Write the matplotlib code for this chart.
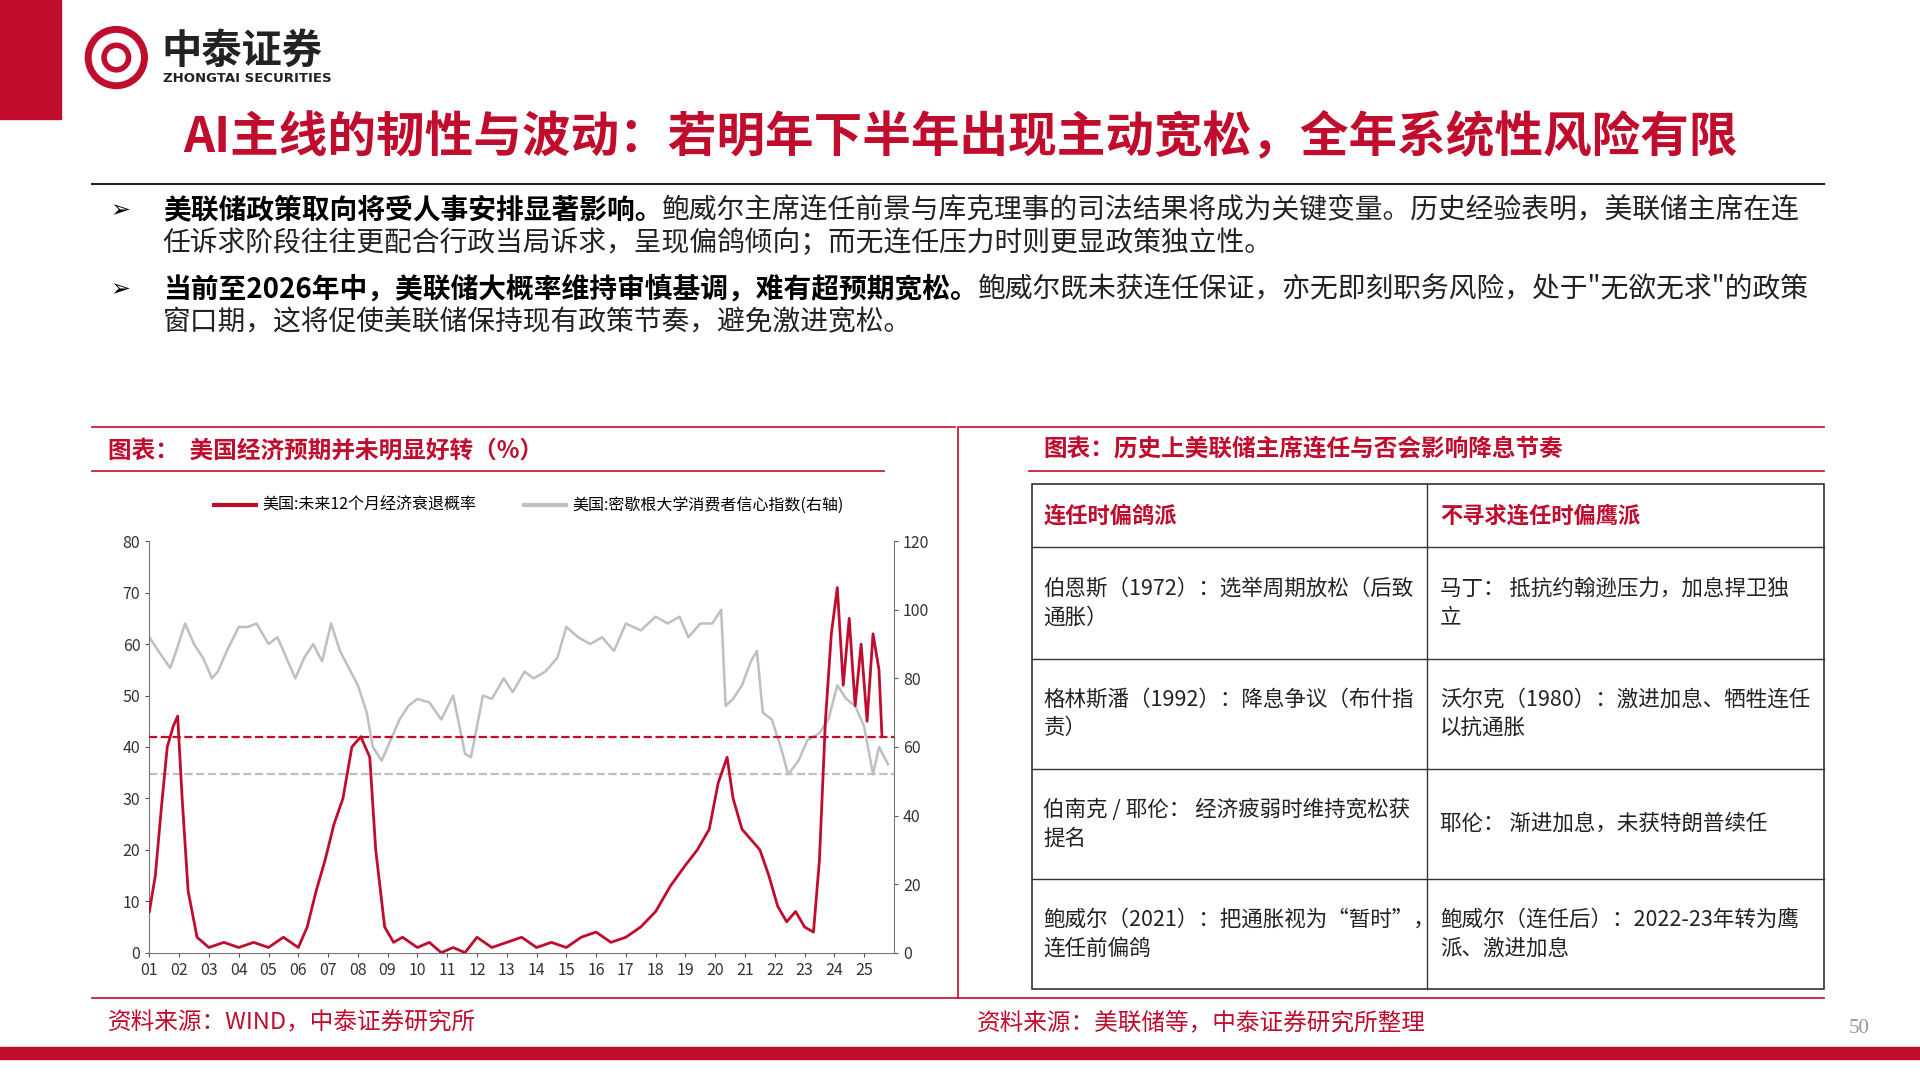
import numpy as np
import matplotlib
matplotlib.use("Agg")
import matplotlib.pyplot as plt
from matplotlib.patches import Rectangle, Ellipse

plt.rcParams['font.family'] = ['Noto Sans CJK SC', 'DejaVu Sans']

RED = "#C00C2D"
GRAY = "#BFBFBF"

# ---- data ----
gray_x = [2001.0, 2001.3, 2001.7, 2001.9, 2002.2, 2002.5, 2002.8, 2003.1, 2003.3, 2003.6, 2004.0,
          2004.3, 2004.6, 2005.0, 2005.3, 2005.7, 2005.9, 2006.2, 2006.5, 2006.8, 2007.1, 2007.4,
          2007.7, 2008.0, 2008.3, 2008.5, 2008.8, 2009.1, 2009.4, 2009.7, 2010.0, 2010.4, 2010.8,
          2011.2, 2011.6, 2011.8, 2012.2, 2012.5, 2012.9, 2013.2, 2013.6, 2013.9, 2014.3, 2014.7,
          2015.0, 2015.4, 2015.8, 2016.2, 2016.6, 2017.0, 2017.5, 2018.0, 2018.4, 2018.8, 2019.1,
          2019.5, 2019.9, 2020.2, 2020.35, 2020.6, 2020.9, 2021.2, 2021.4, 2021.6, 2021.9, 2022.2,
          2022.45, 2022.8, 2023.1, 2023.5, 2023.8, 2024.1, 2024.4, 2024.7, 2025.0, 2025.3, 2025.5,
          2025.8]
gray_y = [92, 88, 83, 88, 96, 90, 86, 80, 82, 88, 95, 95, 96, 90, 92, 84, 80, 86, 90, 85, 96,
          88, 83, 78, 70, 60, 56, 62, 68, 72, 74, 73, 68, 75, 58, 57, 75, 74, 80, 76, 82, 80,
          82, 86, 95, 92, 90, 92, 88, 96, 94, 98, 96, 98, 92, 96, 96, 100, 72, 74, 78, 85, 88,
          70, 68, 60, 52, 56, 62, 64, 68, 78, 74, 72, 66, 52, 60, 55]
red_x = [2001.0, 2001.2, 2001.4, 2001.6, 2001.8, 2001.95, 2002.1, 2002.3, 2002.6, 2003.0, 2003.5,
         2004.0, 2004.5, 2005.0, 2005.5, 2006.0, 2006.3, 2006.6, 2006.9, 2007.2, 2007.5, 2007.8,
         2008.1, 2008.4, 2008.6, 2008.9, 2009.2, 2009.5, 2010.0, 2010.4, 2010.8, 2011.2, 2011.6,
         2012.0, 2012.5, 2013.0, 2013.5, 2014.0, 2014.5, 2015.0, 2015.5, 2016.0, 2016.5, 2017.0,
         2017.5, 2018.0, 2018.5, 2019.0, 2019.4, 2019.8, 2020.1, 2020.4, 2020.6, 2020.9, 2021.2,
         2021.5, 2021.8, 2022.1, 2022.4, 2022.7, 2023.0, 2023.3, 2023.5, 2023.7, 2023.9, 2024.1,
         2024.3, 2024.5, 2024.7, 2024.9, 2025.1, 2025.3, 2025.5, 2025.6]
red_y = [8, 15, 28, 40, 44, 46, 30, 12, 3, 1, 2, 1, 2, 1, 3, 1, 5, 12, 18, 25, 30, 40, 42,
         38, 20, 5, 2, 3, 1, 2, 0, 1, 0, 3, 1, 2, 3, 1, 2, 1, 3, 4, 2, 3, 5, 8, 13, 17, 20, 24,
         33, 38, 30, 24, 22, 20, 15, 9, 6, 8, 5, 4, 18, 45, 62, 71, 52, 65, 48, 60, 45, 62, 55, 42]
red_avg = 42
gray_avg = 52
years = [f"{i:02d}" for i in range(1, 26)]
legend_red = "美国:未来12个月经济衰退概率"
legend_gray = "美国:密歇根大学消费者信心指数(右轴)"

table_head = ["连任时偏鸽派", "不寻求连任时偏鹰派"]
table_rows = [
    ["伯恩斯（1972）：选举周期放松（后致\n通胀）", "马丁： 抵抗约翰逊压力，加息捍卫独\n立"],
    ["格林斯潘（1992）：降息争议（布什指\n责）", "沃尔克（1980）：激进加息、牺牲连任\n以抗通胀"],
    ["伯南克 / 耶伦： 经济疲弱时维持宽松获\n提名", "耶伦： 渐进加息，未获特朗普续任"],
    ["鲍威尔（2021）：把通胀视为“暂时”，\n连任前偏鸽", "鲍威尔（连任后）：2022-23年转为鹰\n派、激进加息"],
]

W, H = 1568.0, 882.0
fig = plt.figure(figsize=(19.2, 10.8), dpi=100)

def fx(px): return px / W
def fy(py): return 1 - py / H

def hline(y, x0, x1, color=RED, lw=1.2):
    fig.add_artist(plt.Line2D([fx(x0), fx(x1)], [fy(y), fy(y)], color=color, lw=lw))

# header
fig.add_artist(Rectangle((0, fy(97)), fx(50), 97 / H, color=RED, transform=fig.transFigure))
fig.add_artist(Ellipse((fx(95), fy(47)), 46 / W, 46 / H, transform=fig.transFigure, fill=False,
                       ec=RED, lw=5))
fig.add_artist(Ellipse((fx(95), fy(47)), 20 / W, 20 / H, transform=fig.transFigure, fill=False,
                       ec=RED, lw=4))
fig.text(fx(132), fy(42), "中泰证券", fontsize=29, weight="bold", color="#222222", va="center")
fig.text(fx(133), fy(64), "ZHONGTAI SECURITIES", fontsize=9.5, weight="bold", color="#222222",
         va="center", family="DejaVu Sans")
fig.text(fx(784), fy(112), "AI主线的韧性与波动：若明年下半年出现主动宽松，全年系统性风险有限",
         fontsize=35, weight="bold", color=RED, ha="center", va="center")
hline(150, 75, 1490, color="#222222", lw=1.5)

bullets = [
    (172, "美联储政策取向将受人事安排显著影响。", "鲍威尔主席连任前景与库克理事的司法结果将成为关键变量。历史经验表明，美联储主席在连"),
    (198, "", "任诉求阶段往往更配合行政当局诉求，呈现偏鸽倾向；而无连任压力时则更显政策独立性。"),
    (236, "当前至2026年中，美联储大概率维持审慎基调，难有超预期宽松。", "鲍威尔既未获连任保证，亦无即刻职务风险，处于\"无欲无求\"的政策"),
    (263, "", "窗口期，这将促使美联储保持现有政策节奏，避免激进宽松。"),
]
for y, b, t in bullets:
    if b:
        fig.text(fx(90), fy(y), "➢", fontsize=17, va="center", family=["DejaVu Sans"])
    txt = fig.text(fx(133), fy(y), b, fontsize=20, weight="bold", va="center")
    if b:
        fig.canvas.draw()
        bb = txt.get_window_extent()
        x2 = bb.x1 / fig.bbox.width
    else:
        x2 = fx(133)
    fig.text(x2, fy(y), t, fontsize=20, va="center", color="#222222")

# section frames
hline(349, 75, 780); hline(385, 75, 722)
hline(349, 784, 1490); hline(385, 840, 1490)
hline(815, 75, 1490)
fig.add_artist(plt.Line2D([fx(782), fx(782)], [fy(349), fy(815)], color=RED, lw=1.2))
fig.text(fx(88), fy(368), "图表：  美国经济预期并未明显好转（%）", fontsize=17, color=RED,
         style="italic", weight="bold", va="center")
fig.text(fx(852), fy(367), "图表：历史上美联储主席连任与否会影响降息节奏", fontsize=17, color=RED,
         style="italic", weight="bold", va="center")
fig.text(fx(88), fy(835), "资料来源：WIND，中泰证券研究所", fontsize=17, color=RED,
         style="italic", va="center")
fig.text(fx(798), fy(835), "资料来源：美联储等，中泰证券研究所整理", fontsize=17, color=RED,
         style="italic", va="center")
fig.add_artist(Rectangle((0, fy(865)), 1, 10 / H, color=RED, transform=fig.transFigure))
fig.text(fx(1518), fy(840), "50", fontsize=15, color="#999999", ha="center", va="center",
         family="Liberation Serif")

# chart
ax = fig.add_axes([fx(122), fy(778), fx(730) - fx(122), (778 - 442) / H])
ax2 = ax.twinx()
ax2.plot(gray_x, gray_y, color=GRAY, lw=1.8)
ax2.axhline(gray_avg, color=GRAY, lw=1.6, ls="--")
ax2.set_ylim(0, 120)
ax2.set_yticks(range(0, 121, 20))
ax.plot(red_x, red_y, color=RED, lw=2.0, zorder=3)
ax.axhline(red_avg, color=RED, lw=1.6, ls="--", zorder=3)
ax.set_zorder(ax2.get_zorder() + 1)
ax.patch.set_visible(False)
ax.set_ylim(0, 80)
ax.set_yticks(range(0, 81, 10))
ax.set_xlim(2001, 2026)
ax.set_xticks(np.arange(2001, 2026) + 0.0)
ax.set_xticklabels(years)
for a in (ax, ax2):
    a.spines["top"].set_visible(False)
    a.tick_params(labelsize=11.5, color="#555555", length=3, labelcolor="#333333")
ax.spines["right"].set_visible(False)
ax2.spines["left"].set_visible(False)
ax2.spines["bottom"].set_visible(False)
ax.spines["bottom"].set_color("#777777")
ax.spines["left"].set_color("#777777")
ax2.spines["right"].set_color("#777777")
fig.legend(handles=[plt.Line2D([], [], color=RED, lw=3, label=legend_red),
                    plt.Line2D([], [], color=GRAY, lw=3, label=legend_gray)],
           loc="center", bbox_to_anchor=(fx(432), fy(413)), ncol=2, frameon=False,
           fontsize=11.5, columnspacing=3, handlelength=2.6, handletextpad=0.4)

# table
tx0, tx1, txm = 843, 1490, 1165
row_y = [395, 447, 538, 628, 718, 808]
fig.add_artist(Rectangle((fx(tx0), fy(row_y[-1])), fx(tx1) - fx(tx0),
                         (row_y[-1] - row_y[0]) / H, transform=fig.transFigure,
                         fill=False, ec="#333333", lw=1.2))
for y in row_y[1:-1]:
    hline(y, tx0, tx1, color="#333333", lw=1.0)
fig.add_artist(plt.Line2D([fx(txm), fx(txm)], [fy(row_y[0]), fy(row_y[-1])],
                          color="#333333", lw=1.0))
fig.text(fx(852), fy(421), table_head[0], fontsize=16, color=RED, va="center", weight="bold")
fig.text(fx(1176), fy(421), table_head[1], fontsize=16, color=RED, va="center", weight="bold")
for i, (l, r) in enumerate(table_rows):
    yc = (row_y[i + 1] + row_y[i + 2]) / 2
    fig.text(fx(852), fy(yc), l, fontsize=15.5, va="center", color="#222222", linespacing=1.4)
    fig.text(fx(1176), fy(yc), r, fontsize=15.5, va="center", color="#222222", linespacing=1.4)

fig.savefig("out.png", dpi=100)
